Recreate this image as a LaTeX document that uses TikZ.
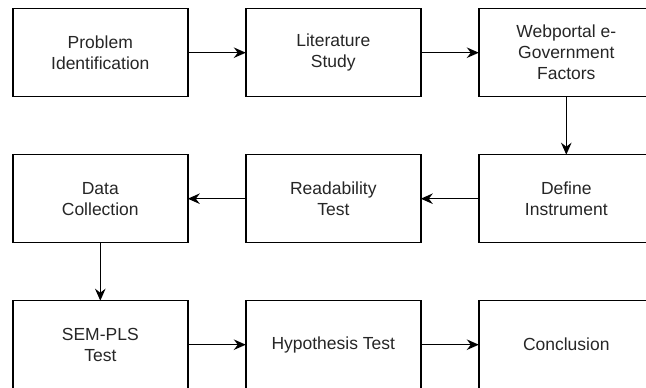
\documentclass[tikz,border=0pt]{standalone}
\usepackage{fontspec}
\setmainfont{Liberation Sans}
\usetikzlibrary{positioning,arrows.meta}
\tikzset{
  stage/.style={draw, line width=1.5pt, outer sep=0pt, inner sep=0pt,
    minimum width=175pt, minimum height=88pt, align=center,
    font=\fontsize{17.5}{21}\selectfont, text=black!85},
  flow/.style={-{Stealth[length=12pt,width=10.5pt,inset=4pt]}, line width=1.5pt}
}
\begin{document}
\begin{tikzpicture}
\useasboundingbox (0,0) rectangle (646pt,-388pt);

\node[stage] (prob) at (100.3pt,-52.7pt) {Problem\\Identification};
\node[stage, right=58pt of prob] (lit) {Literature\\Study};
\node[stage, right=58pt of lit] (web) {Webportal e-\\Government\\Factors};

\node[stage, below=58pt of web] (def) {Define\\Instrument};
\node[stage, left=58pt of def] (read) {Readability\\Test};
\node[stage, left=58pt of read] (data) {Data\\Collection};

\node[stage, below=58pt of data] (sem) {SEM-PLS\\Test};
\node[stage, right=58pt of sem] (hyp) {Hypothesis Test};
\node[stage, right=58pt of hyp] (conc) {Conclusion};

\draw[flow] (prob) -- (lit);
\draw[flow] (lit) -- (web);
\draw[flow] (web) -- (def);
\draw[flow] (def) -- (read);
\draw[flow] (read) -- (data);
\draw[flow] (data) -- (sem);
\draw[flow] (sem) -- (hyp);
\draw[flow] (hyp) -- (conc);
\end{tikzpicture}
\end{document}
